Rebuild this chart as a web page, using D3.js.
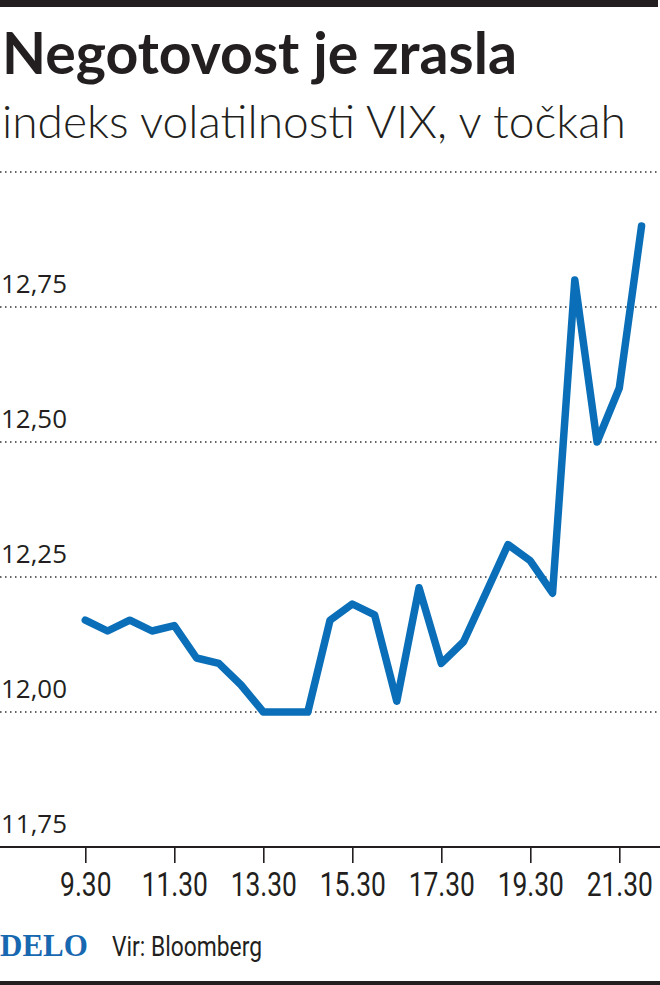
<!DOCTYPE html>
<html>
<head>
<meta charset="utf-8">
<script src="https://cdn.jsdelivr.net/npm/d3@7"></script>
<style>
  html, body { margin: 0; padding: 0; background: #fff; }
  svg { display: block; }
</style>
</head>
<body>
<div id="chart"></div>
<script>
// ---- data ----
const times = [9.5, 10, 10.5, 11, 11.5, 12, 12.5, 13, 13.5, 14, 14.5, 15, 15.5, 16, 16.5, 17, 17.5, 18, 18.5, 19, 19.5, 20, 20.5, 21, 21.5, 22];
const vix = [12.17, 12.15, 12.17, 12.15, 12.16, 12.10, 12.09, 12.05, 12.00, 12.00, 12.00, 12.17, 12.20, 12.18, 12.02, 12.23, 12.09, 12.13, 12.22, 12.31, 12.28, 12.22, 12.80, 12.50, 12.60, 12.90];
const yTicks = [11.75, 12.00, 12.25, 12.50, 12.75, 13.00];
const yTickLabels = ["11,75", "12,00", "12,25", "12,50", "12,75", ""];
const xTicks = [9.5, 11.5, 13.5, 15.5, 17.5, 19.5, 21.5];
const xTickLabels = ["9.30", "11.30", "13.30", "15.30", "17.30", "19.30", "21.30"];
const titleText = "Negotovost je zrasla";
const subtitleText = "indeks volatilnosti VIX, v točkah";
const sourceText = "Vir: Bloomberg";
const logoText = "DELO";

// ---- layout ----
const W = 660, H = 985;
const svg = d3.select("#chart").append("svg").attr("width", W).attr("height", H);

const x = d3.scaleLinear().domain([9.5, 21.5]).range([85.3, 619.3]);
const y = d3.scaleLinear().domain([11.75, 13.0]).range([847, 172]);

const ink = "#231f20";
const blue = "#0a6fb8";

function fit(sel, target) {
  const n = sel.node();
  const w = n.getComputedTextLength();
  const fs = parseFloat(sel.attr("font-size"));
  sel.attr("font-size", fs * target / w);
}

// top bar
svg.append("rect").attr("x", 0).attr("y", 0).attr("width", 658).attr("height", 7).attr("fill", ink);

// title
const title = svg.append("text").attr("x", 2).attr("y", 74)
  .attr("font-family", "Lato, 'Open Sans', sans-serif").attr("font-weight", 700)
  .attr("font-size", 50).attr("fill", ink).text(titleText);
fit(title, 515);

const sub = svg.append("text").attr("x", 2).attr("y", 138)
  .attr("font-family", "Lato, 'Open Sans', sans-serif").attr("font-weight", 300)
  .attr("font-size", 44).attr("fill", ink).text(subtitleText);
fit(sub, 624);

// gridlines (dotted)
svg.append("g").selectAll("line").data(yTicks.filter(d => d > 11.75)).join("line")
  .attr("x1", 0).attr("x2", W)
  .attr("y1", d => y(d)).attr("y2", d => y(d))
  .attr("stroke", "#333").attr("stroke-width", 1.5)
  .attr("stroke-dasharray", "1.5 3.5");

// y labels
svg.append("g").selectAll("text").data(yTicks.map((d, i) => ({v: d, t: yTickLabels[i]})).filter(d => d.t)).join("text")
  .attr("x", 1).attr("y", d => y(d.v) - 14)
  .attr("font-family", "'Open Sans', 'Noto Sans', sans-serif")
  .attr("font-size", 27).attr("fill", ink)
  .text(d => d.t)
  .each(function() { fit(d3.select(this), 66); });

// x axis
const xAxis = d3.axisBottom(x).tickValues(xTicks)
  .tickFormat((d, i) => xTickLabels[i]).tickSize(16).tickPadding(10);
const gx = svg.append("g").attr("transform", `translate(0,${y(11.75)})`).call(xAxis);
gx.select(".domain").remove();
gx.selectAll(".tick line").attr("stroke", ink).attr("stroke-width", 1.6);
gx.selectAll(".tick text")
  .attr("fill", ink)
  .attr("font-family", "Roboto, 'Noto Sans', sans-serif")
  .attr("font-size", 33)
  .attr("dy", "0.71em")
  .attr("transform", "scale(0.8,1)");
svg.append("line").attr("x1", 0).attr("x2", W).attr("y1", y(11.75)).attr("y2", y(11.75))
  .attr("stroke", ink).attr("stroke-width", 2);

// line
const line = d3.line().x((d, i) => x(times[i])).y(d => y(d));
svg.append("path").datum(vix).attr("d", line)
  .attr("fill", "none").attr("stroke", blue).attr("stroke-width", 7.5)
  .attr("stroke-linejoin", "round").attr("stroke-linecap", "round");

// footer
const logo = svg.append("text").attr("x", 0).attr("y", 956)
  .attr("font-family", "'Liberation Serif', 'DejaVu Serif', serif").attr("font-weight", 700)
  .attr("font-size", 30).attr("fill", "#1768b0").text(logoText);
fit(logo, 88);
const src = svg.append("text").attr("x", 0).attr("y", 956)
  .attr("font-family", "Roboto, 'Noto Sans', sans-serif")
  .attr("font-size", 28).attr("fill", ink)
  .attr("transform", "translate(112,0) scale(0.82,1)")
  .text(sourceText);
{
  const w = src.node().getComputedTextLength();
  src.attr("transform", `translate(112,0) scale(${150 / w},1)`);
}

svg.append("rect").attr("x", 0).attr("y", 981).attr("width", W).attr("height", 4).attr("fill", ink);
</script>
</body>
</html>
